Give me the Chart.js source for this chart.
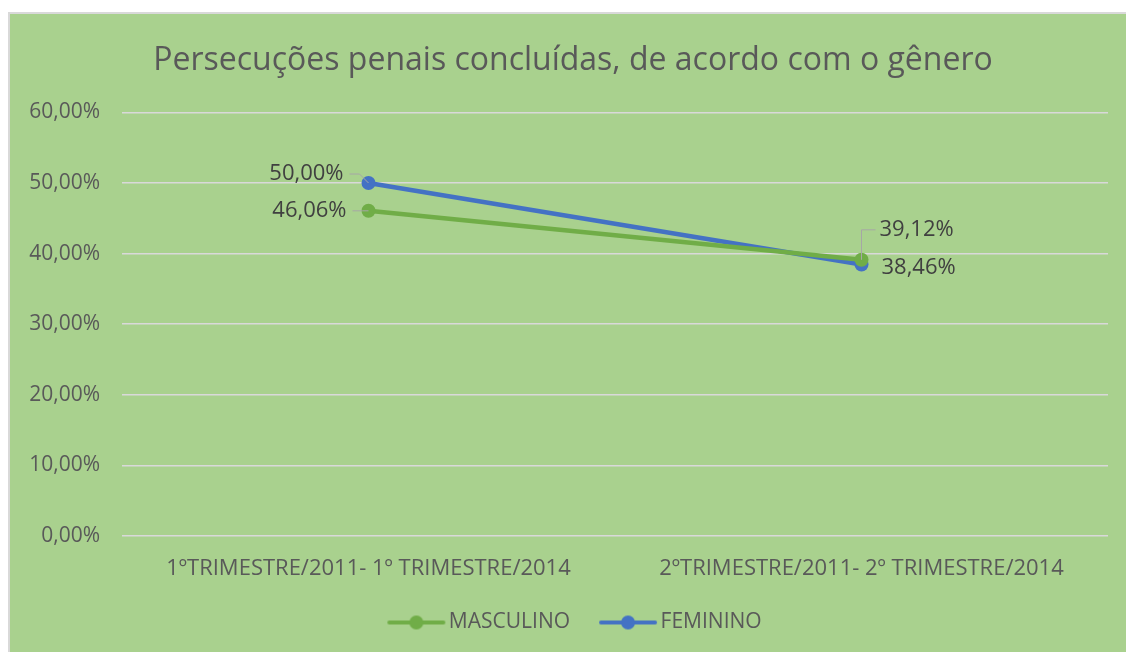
<!DOCTYPE html>
<html>
<head>
<meta charset="utf-8">
<script src="https://cdn.jsdelivr.net/npm/chart.js@4"></script>
<style>
  html, body { margin: 0; padding: 0; background: #ffffff; }
  #marco {
    position: absolute;
    left: 8px;
    top: 12px;
    width: 1116px;
    height: 638px;
    border-left: 2px solid #d9d9d9;
    border-top: 2px solid #d9d9d9;
    background: #a9d18e;
  }
  #grafico { display: block; }
</style>
</head>
<body>
<div id="marco"><canvas id="grafico" width="1116" height="638"></canvas></div>
<script>
const categorias = [
  "1ºTRIMESTRE/2011- 1º TRIMESTRE/2014",
  "2ºTRIMESTRE/2011- 2º TRIMESTRE/2014",
];

const masculino = [46.06, 39.12];

const feminino = [50.0, 38.46];

const series = ["MASCULINO", "FEMININO"];

const coresSeries = ["#70ad47", "#4472c4"];

const corTexto = "#595959";

const fonte = "'Open Sans', 'Noto Sans', sans-serif";

function formatar(v) {
  return v.toFixed(2).replace(".", ",") + "%";
}

// imagem da legenda: linha com círculo no meio (margem transparente à esquerda)
function iconeLegenda(cor) {
  const c = document.createElement("canvas");
  c.width = 70;
  c.height = 16;
  const ctx = c.getContext("2d");
  ctx.strokeStyle = cor;
  ctx.lineWidth = 4;
  ctx.lineCap = "round";
  ctx.beginPath();
  ctx.moveTo(13, 8);
  ctx.lineTo(67, 8);
  ctx.stroke();
  ctx.fillStyle = cor;
  ctx.beginPath();
  ctx.arc(40, 8, 7, 0, Math.PI * 2);
  ctx.fill();
  return c;
}

/*
  rótulos de dados com linhas de chamada
*/
const rotulos = {
  id: "rotulos",
  afterLayout(chart) {
    // deixa os rótulos do eixo Y usarem a margem esquerda sem recorte
    chart.scales.y.left = 0;
  },
  afterDatasetsDraw(chart) {
    const ctx = chart.ctx;
    // [dataset, ponto, dx, dy, alinhamento, chamada]
    const posicoes = [
      [0, 0, -22, 0, "right", true],
      [0, 1, 18, -30, "left", true],
      [1, 0, -25, -9, "right", true],
      [1, 1, 20, 3, "left", false],
    ];
    ctx.save();
    ctx.font = "22px " + fonte;
    ctx.fillStyle = "#404040";
    ctx.textBaseline = "middle";
    posicoes.forEach(([d, i, dx, dy, al, chamada]) => {
      const pt = chart.getDatasetMeta(d).data[i];
      const valor = chart.data.datasets[d].data[i];
      const tx = pt.x + dx;
      const ty = pt.y + dy;
      if (chamada) {
        ctx.strokeStyle = "#a6a6a6";
        ctx.lineWidth = 1;
        ctx.beginPath();
        if (al === "left") {
          ctx.moveTo(tx - 4, ty);
          ctx.lineTo(pt.x, ty);
          ctx.lineTo(pt.x, pt.y);
        } else {
          ctx.moveTo(tx + 6, ty);
          ctx.lineTo(tx + 16, ty);
          ctx.lineTo(pt.x, pt.y);
        }
        ctx.stroke();
      }
      ctx.textAlign = al;
      ctx.fillText(formatar(valor), tx, ty);
    });
    ctx.restore();
  },
};

const canvas = document.getElementById("grafico");

new Chart(canvas, {
  type: "line",

  data: {
    labels: categorias,

    datasets: [
      {
        label: series[0],
        data: masculino,
        borderColor: coresSeries[0],
        backgroundColor: coresSeries[0],
        borderWidth: 4.5,
        pointRadius: 7,
        pointHoverRadius: 7,
        pointBorderWidth: 0,
      },
      {
        label: series[1],
        data: feminino,
        borderColor: coresSeries[1],
        backgroundColor: coresSeries[1],
        borderWidth: 4.5,
        pointRadius: 7,
        pointHoverRadius: 7,
        pointBorderWidth: 0,
      },
    ],
  },

  options: {
    responsive: false,
    animation: false,
    layout: {
      padding: { left: 28, right: 18, top: 0, bottom: 9 },
    },
    scales: {
      x: {
        offset: true,
        afterFit: (s) => {
          s.height = 50;
        },
        grid: { display: false },
        border: { display: false },
        ticks: {
          color: corTexto,
          font: { family: fonte, size: 22 },
          padding: 12,
          maxRotation: 0,
        },
      },
      y: {
        min: 0,
        max: 60,
        afterFit: (s) => {
          s.width = 84;
        },
        grid: { color: "#d9d9d9", lineWidth: 1.5, drawTicks: false },
        border: { display: false },
        ticks: {
          stepSize: 10,
          color: corTexto,
          font: { family: fonte, size: 21 },
          padding: 22,
          callback: (v) => formatar(v),
        },
      },
    },
    plugins: {
      title: {
        display: true,
        text: "Persecuções penais concluídas, de acordo com o gênero",
        color: corTexto,
        font: { family: fonte, size: 32, weight: "normal" },
        padding: { top: 28, bottom: 32 },
      },
      legend: {
        position: "bottom",
        labels: {
          usePointStyle: true,
          pointStyleWidth: 54,
          color: corTexto,
          font: { family: fonte, size: 21 },
          padding: 26,
          generateLabels: (chart) =>
            chart.data.datasets.map((ds, i) => ({
              text: ds.label,
              pointStyle: iconeLegenda(coresSeries[i]),
              fontColor: corTexto,
              lineWidth: 0,
              strokeStyle: "transparent",
              fillStyle: coresSeries[i],
              datasetIndex: i,
            })),
        },
      },
      tooltip: { enabled: false },
    },
  },

  plugins: [rotulos],
});
</script>
</body>
</html>
